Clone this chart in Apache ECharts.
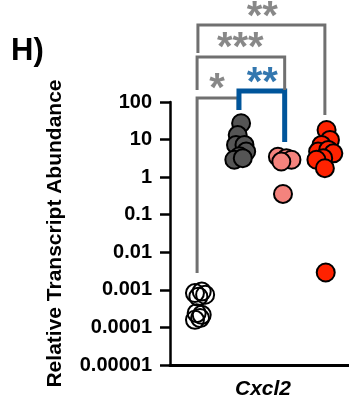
<!DOCTYPE html>
<html>
<head>
<meta charset="utf-8">
<script src="https://cdn.jsdelivr.net/npm/echarts@6.0.0/dist/echarts.min.js"></script>
<style>
html, body { margin: 0; padding: 0; background: #fff; }
#main { width: 349px; height: 397px; }
</style>
</head>
<body>
<div id="main"></div>
<script>
var category = 'Cxcl2';
var panelLabel = 'H)';
var yTitle = 'Relative Transcript Abundance';
var tickLabels = ['0.00001', '0.0001', '0.001', '0.01', '0.1', '1', '10', '100'];

// points: [x position (group 1..4 plus jitter), abundance]
var groupOpen = [[0.93, 0.00082], [1.09, 0.0009], [1.17, 0.00074], [1.01, 0.00066],
                 [0.97, 0.00024], [1.05, 0.000177], [0.93, 0.000159], [1.09, 0.000216]];
var groupGray = [[2.02, 27.2], [1.94, 13.2], [1.9, 7.2], [2.1, 7.2],
                 [2.14, 4.8], [1.98, 3.6], [1.86, 2.9], [2.06, 3.2]];
var groupPink = [[2.89, 3.5], [3.09, 3.2], [3.21, 2.9], [2.97, 2.6], [3.01, 0.357]];
var groupRed = [[4.04, 18], [4.12, 9.8], [3.92, 7.2], [3.84, 4.8], [4.08, 5.3],
                [4.2, 4.3], [3.96, 3.2], [3.8, 2.9], [4.0, 1.73], [4.02, 0.0029]];

// significance brackets
var bracketStar = [[0.98, 0.00283], [0.98, 128], [1.95, 128], [1.95, 61]];
var bracketBlue = [[1.97, 61], [1.97, 196], [3.05, 196], [3.05, 8.6]];
var bracketTriple = [[0.98, 208], [0.98, 1574], [3.05, 1574], [3.05, 208]];
var bracketTop = [[1.0, 2009], [1.0, 11170], [4.0, 11170], [4.0, 45]];

var starsGray = [{ value: [1.45, 385], name: '*' }, { value: [2.0, 4743], name: '***' }, { value: [2.52, 31623], name: '**' }];
var starsBlue = [{ value: [2.52, 556], name: '**' }];

var chart = echarts.init(document.getElementById('main'));
var font = 'Liberation Sans, Arial, sans-serif';

function dots(data, fill) {
    return {
        type: 'scatter',
        data: data,
        symbolSize: 18,
        z: 5,
        itemStyle: { color: fill, borderColor: '#000', borderWidth: 2, opacity: 1 }
    };
}
function bracket(data, color, width) {
    return {
        type: 'line',
        data: data,
        clip: false,
        symbol: 'none',
        z: 3,
        lineStyle: { color: color, width: width, join: 'miter' }
    };
}
function stars(data, color) {
    return {
        type: 'scatter',
        data: data,
        symbolSize: 0,
        clip: false,
        label: {
            show: true,
            position: 'inside',
            formatter: '{b}',
            color: color,
            fontSize: 40,
            fontWeight: 'bold',
            fontFamily: font,
            offset: [0, 10]
        }
    };
}

var option = {
    animation: false,
    grid: { left: 170, right: 0, top: 102, bottom: 32, outerBoundsMode: 'none' },
    graphic: [{
        type: 'text', left: 11, top: 36,
        style: { text: panelLabel, fontSize: 31, fontWeight: 'bold', fontFamily: font, fill: '#000' }
    }],
    xAxis: {
        type: 'value',
        min: 0.34,
        max: 4.57,
        name: category,
        nameLocation: 'middle',
        nameGap: 14,
        nameTextStyle: { fontSize: 21, fontWeight: 'bold', fontStyle: 'italic', fontFamily: font, color: '#000', padding: [0, 0, 0, 7] },
        axisLine: { lineStyle: { color: '#000', width: 3 } },
        axisTick: { show: false },
        axisLabel: { show: false },
        splitLine: { show: false }
    },
    yAxis: {
        type: 'log',
        logBase: 10,
        min: 0.00001,
        max: 100,
        interval: 1,
        name: yTitle,
        nameLocation: 'middle',
        nameGap: 104,
        nameTextStyle: { fontSize: 21, fontWeight: 'bold', fontFamily: font, color: '#000' },
        axisLine: { show: true, lineStyle: { color: '#000', width: 2.5 } },
        axisTick: { show: true, length: 10, lineStyle: { color: '#000', width: 2.5 } },
        axisLabel: {
            margin: 18,
            fontSize: 20,
            fontWeight: 'bold',
            fontFamily: font,
            color: '#000',
            formatter: function (v) {
                return tickLabels[Math.round(Math.log10(v)) + 5];
            }
        },
        splitLine: { show: false }
    },
    series: [
        bracket(bracketStar, '#707070', 3),
        bracket(bracketBlue, '#00559b', 5),
        bracket(bracketTriple, '#707070', 3),
        bracket(bracketTop, '#707070', 3),
        dots(groupOpen, 'rgba(255,255,255,0)'),
        dots(groupGray, '#555555'),
        dots(groupPink, '#f4837d'),
        dots(groupRed, '#ff2200'),
        stars(starsGray, '#6a6a6a'),
        stars(starsBlue, '#00559b')
    ]
};
chart.setOption(option);
</script>
</body>
</html>
